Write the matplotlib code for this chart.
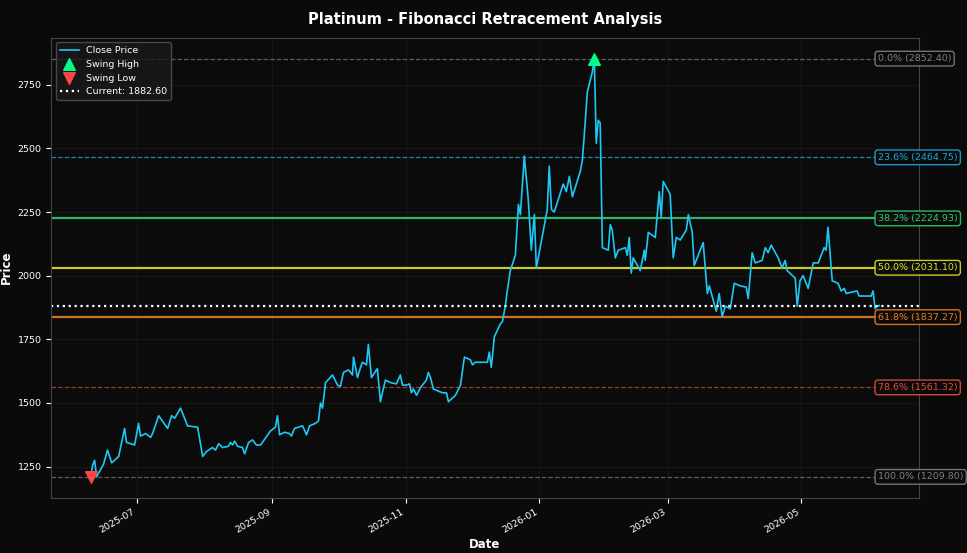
import matplotlib
matplotlib.use("Agg")
import matplotlib.pyplot as plt
import matplotlib.dates as mdates
import pandas as pd

days = [-21.0,-20.1,-19.2,-18.3,-15.1,-13.3,-11.4,-8.2,-5.5,-4.6,-0.9,0.9,1.8,4.1,6.4,7.3,10.1,14.2,16.0,17.4,20.1,23.3,27.9,30.2,32.0,34.7,36.1,37.5,39.3,42.0,43.0,43.9,44.8,46.2,48.4,49.4,51.2,53.0,54.8,56.7,61.2,63.5,64.4,65.4,67.6,69.9,70.8,72.2,75.9,77.7,79.1,81.8,83.2,84.1,85.0,86.4,89.6,91.9,93.2,94.6,96.9,98.7,99.2,101.0,102.4,103.3,105.1,106.0,107.4,110.1,111.5,112.4,113.8,116.1,118.8,120.6,121.6,123.4,124.8,125.7,126.6,128.0,129.8,132.5,133.4,134.4,135.7,139.8,141.7,142.6,145.8,148.1,149.9,152.6,153.6,154.9,160.4,161.3,162.2,163.6,166.3,167.3,168.6,169.5,170.9,173.2,174.6,175.5,177.3,179.1,180.5,181.9,182.8,187.8,188.7,189.7,191.0,195.1,196.5,197.9,199.3,202.9,203.8,204.7,206.1,208.4,209.3,210.2,211.1,212.0,213.0,215.7,216.6,217.5,218.9,220.3,223.5,224.4,225.3,226.2,227.1,230.3,232.2,232.6,234.0,237.2,239.0,239.9,240.8,244.0,245.4,246.8,248.6,251.4,252.3,254.1,255.0,259.1,261.0,261.9,265.1,266.4,267.8,269.2,271.5,273.3,276.0,278.8,279.7,281.5,282.9,286.1,287.5,288.8,290.2,293.4,295.2,296.6,297.5,301.2,302.1,303.4,304.8,307.1,309.4,311.7,314.4,315.3,316.2,318.1,320.8,322.2,323.6,324.5,329.5,330.4,335.9,336.8,337.7,338.6,339.6]
prices = [1209.8,1255,1275,1210,1260,1315,1265,1290,1400,1345,1335,1420,1370,1380,1365,1380,1450,1400,1450,1440,1480,1410,1405,1290,1310,1325,1315,1340,1325,1330,1345,1335,1350,1330,1325,1300,1345,1355,1335,1335,1390,1405,1450,1375,1385,1380,1370,1400,1410,1375,1410,1420,1430,1500,1480,1580,1610,1570,1565,1620,1630,1610,1680,1600,1640,1660,1650,1730,1600,1635,1505,1540,1590,1580,1575,1610,1570,1570,1575,1540,1555,1530,1560,1590,1620,1600,1555,1540,1540,1505,1530,1570,1680,1670,1650,1660,1660,1700,1640,1760,1810,1820,1880,1940,2020,2080,2280,2240,2470,2300,2100,2240,2030,2260,2430,2260,2250,2360,2330,2390,2310,2410,2450,2550,2720,2800,2852.4,2520,2610,2600,2110,2100,2200,2180,2070,2100,2110,2080,2150,2010,2070,2020,2100,2060,2170,2150,2330,2230,2370,2320,2070,2150,2140,2180,2240,2170,2040,2130,1930,1960,1860,1930,1840,1880,1870,1970,1960,1955,1910,2090,2050,2060,2110,2090,2120,2070,2030,2060,2020,1990,1880,1980,2000,1950,2050,2050,2110,2100,2190,1980,1970,1940,1950,1930,1940,1920,1920,1940,1870,1880,1882.6]

start = pd.Timestamp("2025-07-01")
dates = start + pd.to_timedelta(days, unit="D")

swing_high = 2852.40
swing_low = 1209.80
current = 1882.60
fib_pcts = [0.0, 23.6, 38.2, 50.0, 61.8, 78.6, 100.0]
fib_colors = ["#808080", "#1ca8d6", "#2ecc71", "#e1e12a", "#e67e22", "#e74c3c", "#808080"]
fib_styles = ["--", "--", "-", "-", "-", "--", "--"]
fib_widths = [0.9, 0.9, 1.6, 1.6, 1.6, 0.9, 0.9]
fib_alpha = [0.7, 0.8, 0.9, 0.9, 0.9, 0.7, 0.7]

fig = plt.figure(figsize=(9.67, 5.53), dpi=100, facecolor="#0a0a0a")
ax = fig.add_axes([0.053, 0.10, 0.897, 0.832])
ax.set_facecolor("#0b0b0b")

for p, c, ls, lw, a in zip(fib_pcts, fib_colors, fib_styles, fib_widths, fib_alpha):
    lvl = swing_high - (swing_high - swing_low) * p / 100
    ax.axhline(lvl, color=c, linestyle=ls, linewidth=lw, alpha=a)
    ax.text(0.953, lvl, f"{p:.1f}% ({lvl:.2f})", transform=ax.get_yaxis_transform(),
            color=c, fontsize=6.8, va="center", ha="left",
            bbox=dict(boxstyle="round,pad=0.3", facecolor="#0b0b0b", edgecolor=c, alpha=0.9))

ax.plot(dates, prices, color="#1ec8f5", linewidth=1.2, label="Close Price")
hi = prices.index(max(prices)); lo = prices.index(min(prices))
ax.scatter([dates[hi]], [prices[hi]], marker="^", s=70, color="#00ff88", zorder=5, label="Swing High")
ax.scatter([dates[lo]], [prices[lo]], marker="v", s=70, color="#ff4444", zorder=5, label="Swing Low")
ax.axhline(current, color="white", linestyle=":", linewidth=1.6, label=f"Current: {current:.2f}")

ax.set_title("Platinum - Fibonacci Retracement Analysis", color="white", fontsize=10.5, fontweight="bold", pad=10)
ax.set_xlabel("Date", color="white", fontsize=8.5, fontweight="bold", labelpad=2)
ax.set_ylabel("Price", color="white", fontsize=8.5, fontweight="bold", labelpad=3)
ax.tick_params(colors="white", labelsize=6.8)
ax.xaxis.set_major_locator(mdates.MonthLocator(bymonth=[1, 3, 5, 7, 9, 11]))
ax.xaxis.set_major_formatter(mdates.DateFormatter("%Y-%m"))
plt.setp(ax.get_xticklabels(), rotation=30, ha="right")
ax.grid(True, color="#333333", alpha=0.35, linewidth=0.6)
for s in ax.spines.values():
    s.set_color("#444444")
ax.set_ylim(1128, 2935)
leg = ax.legend(loc="upper left", fontsize=6.8, facecolor="#1a1a1a", edgecolor="#555555", labelcolor="white")
fig.savefig("out.png", dpi=100, facecolor=fig.get_facecolor())
